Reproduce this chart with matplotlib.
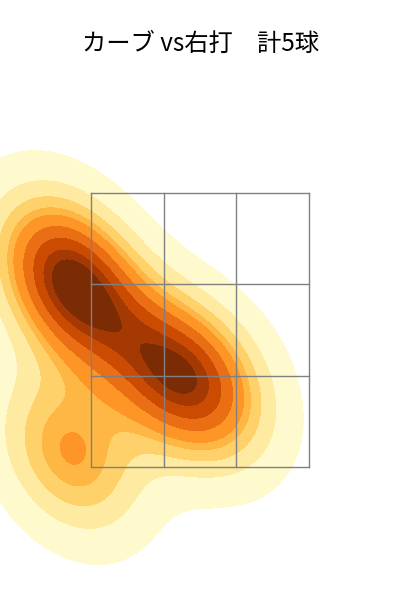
import numpy as np
import pandas as pd
import matplotlib
matplotlib.use("Agg")
import matplotlib.pyplot as plt
import seaborn as sns

# pitch locations (feet): plate_x, plate_z
plate_x = [-1.05, -0.91, -0.27, 0.04, -0.99]
plate_z = [2.95, 2.75, 2.19, 2.10, 1.59]

title = "カーブ vs右打　計5球"

# strike zone
zone_left, zone_right = -0.83, 0.83
zone_bottom, zone_top = 1.5, 3.5

df = pd.DataFrame({"plate_x": plate_x, "plate_z": plate_z})

fig = plt.figure(figsize=(4, 6), dpi=100)
ax = fig.add_axes([0, 0, 1, 1])

sns.kdeplot(data=df, x="plate_x", y="plate_z", fill=True, cmap="YlOrBr",
            levels=10, thresh=0.05, ax=ax)

xs = np.linspace(zone_left, zone_right, 4)
zs = np.linspace(zone_bottom, zone_top, 4)
for x in xs:
    ax.plot([x, x], [zone_bottom, zone_top], color="gray", lw=1)
for z in zs:
    ax.plot([zone_left, zone_right], [z, z], color="gray", lw=1)

ax.set_xlim(-1.523, 1.526)
ax.set_ylim(0.529, 4.909)
ax.axis("off")

fig.text(0.5, 1 - 44 / 600, title, ha="center", va="center", fontsize=17.5,
         family=["Noto Sans CJK JP", "DejaVu Sans"])

fig.savefig("out.png")
